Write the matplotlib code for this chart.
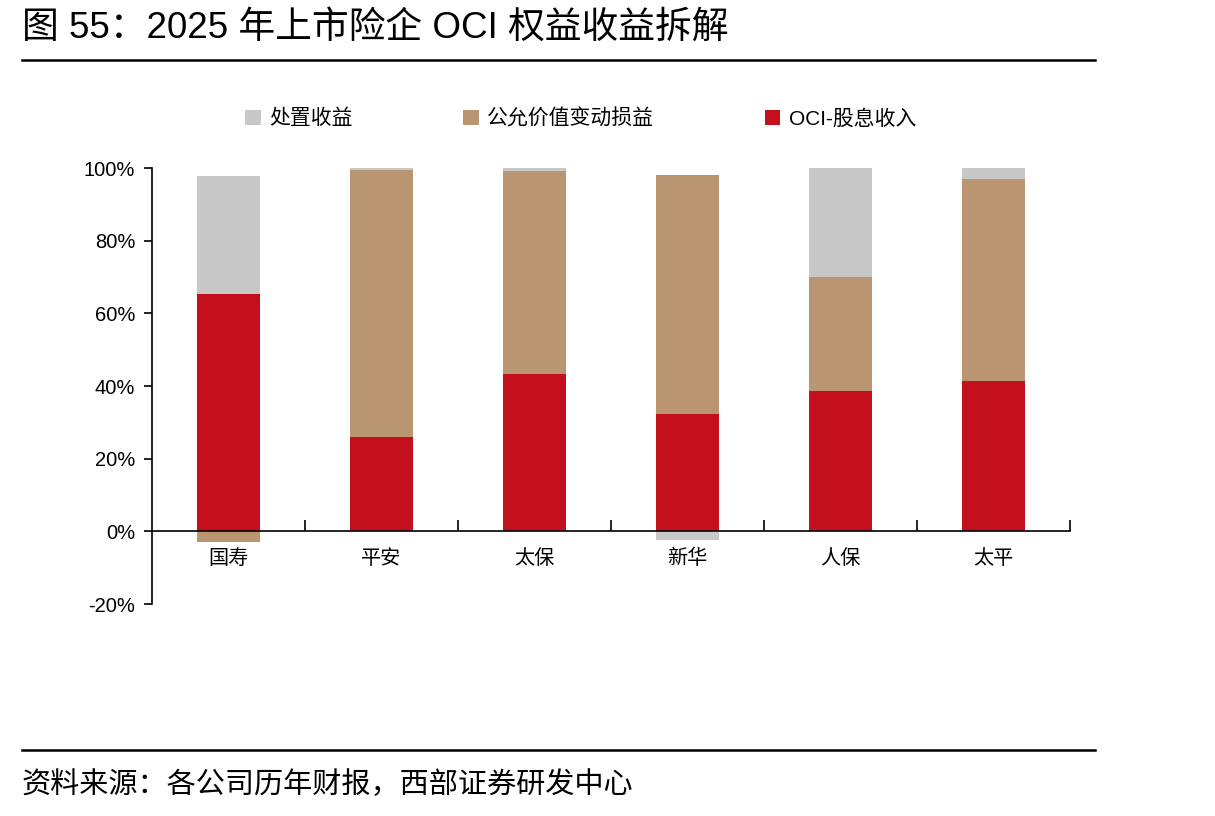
import matplotlib.pyplot as plt
import numpy as np
from matplotlib.ticker import FixedLocator, PercentFormatter

plt.rcParams['font.family'] = ['Liberation Sans', 'Noto Sans CJK SC', 'DejaVu Sans']
plt.rcParams['axes.unicode_minus'] = False

companies = ['国寿', '平安', '太保', '新华', '人保', '太平']
# shares of OCI equity income, %
dividend = [65.3, 25.9, 43.3, 32.2, 38.6, 41.3]
fair_value = [-3.0, 73.5, 55.9, 65.9, 31.4, 55.7]
disposal = [32.5, 0.6, 0.8, -2.5, 30.0, 3.0]

series = [
    ('OCI-股息收入', dividend, '#C3101C'),
    ('公允价值变动损益', fair_value, '#B99671'),
    ('处置收益', disposal, '#C8C8C8'),
]

fig = plt.figure(figsize=(12.15, 8.16), dpi=100)
ax = fig.add_axes([0.1251, 0.2598, 0.7556, 0.5343])

x = np.arange(len(companies))
pos_base = np.zeros(len(companies))
neg_base = np.zeros(len(companies))
handles = {}
for name, vals, col in series:
    vals = np.array(vals)
    base = np.where(vals >= 0, pos_base, neg_base)
    h = ax.bar(x, vals, width=0.41, bottom=base, color=col, label=name)
    handles[name] = h
    pos_base += np.where(vals >= 0, vals, 0)
    neg_base += np.where(vals < 0, vals, 0)

ax.set_xlim(-0.5, 5.5)
ax.set_ylim(-20, 100)
ax.yaxis.set_major_locator(FixedLocator([-20, 0, 20, 40, 60, 80, 100]))
ax.yaxis.set_major_formatter(PercentFormatter(decimals=0))
ax.tick_params(axis='y', direction='out', length=6, width=1.2, labelsize=14.5, pad=6)

ax.spines['top'].set_visible(False)
ax.spines['right'].set_visible(False)
ax.spines['bottom'].set_position(('data', 0))
ax.spines['left'].set_linewidth(1.2)
ax.spines['bottom'].set_linewidth(1.2)

ax.set_xticks(np.arange(0.5, 6, 1))
ax.set_xticklabels([])
ax.tick_params(axis='x', direction='in', length=8, width=1.2)
for xi, name in zip(x, companies):
    ax.text(xi, -4.5, name, ha='center', va='top', fontsize=14.5,
            family=['Noto Sans CJK SC'])

order = ['处置收益', '公允价值变动损益', 'OCI-股息收入']
leg = fig.legend([handles[n] for n in order], order, loc='center',
                 bbox_to_anchor=(0.478, 0.855), ncol=3, frameon=False,
                 fontsize=15, handlelength=0.75, handleheight=0.75,
                 handletextpad=0.4, columnspacing=5.3)

fig.text(0.018, 0.965, '图 55：2025 年上市险企 OCI 权益收益拆解', fontsize=26.5,
         ha='left', va='center')
fig.add_artist(plt.Line2D([0.018, 0.901], [0.927, 0.927], color='black', lw=1.8))
fig.add_artist(plt.Line2D([0.018, 0.901], [0.081, 0.081], color='black', lw=1.8))
fig.text(0.018, 0.038, '资料来源：各公司历年财报，西部证券研发中心', fontsize=21,
         ha='left', va='center')

fig.savefig('out.png', dpi=100)
